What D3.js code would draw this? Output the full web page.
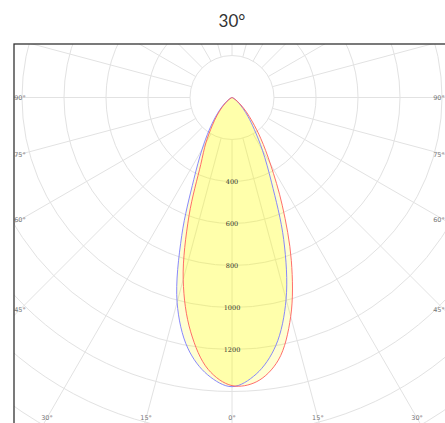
<!DOCTYPE html>
<html><head><meta charset="utf-8">
<script src="https://cdn.jsdelivr.net/npm/d3@7"></script>
<style>html,body{margin:0;padding:0;background:#fff;overflow:hidden}</style>
</head><body>
<div id="chart"></div>
<script>
const title = "30°";
const angles = [0,5,10,15,20,25,30,35,40,45,50,55,60,65,70,75,80,85,90];
// C0-C180 plane (blue)
const c0   = [1377,1322,1200,995,720,445,290,185,120,75,45,25,12,6,3,1,0,0,0];
const c180 = [1377,1326,1212,1010,700,430,285,190,125,80,48,26,13,6,3,1,0,0,0];
// C90-C270 plane (red)
const c90  = [1372,1358,1270,1080,826,566,366,240,152,95,55,30,15,7,3,1,0,0,0];
const c270 = [1372,1300,1133,898,598,352,248,165,110,70,40,22,11,5,2,1,0,0,0];
const ringValues = [200,400,600,800,1000,1200,1400,1600,1800,2000,2200,2400];
const ringLabels = [400,600,800,1000,1200];
const spokeAngles = d3.range(0,360,15);
const leftLabels = [90,75,60,45];
const bottomLabels = [-30,-15,0,15,30];

const W = 445, H = 423;
const cx = 232, cy = 97.5;
const frame = {x:14, y:44, w:436, h:436};
const r = d3.scaleLinear().domain([0,200]).range([0,42]);

const svg = d3.select("#chart").append("svg").attr("width",W).attr("height",H);
svg.append("text").attr("x",232).attr("y",27).attr("text-anchor","middle")
  .attr("font-family","Lato, 'Open Sans', sans-serif").attr("font-size",17)
  .attr("fill","#333").text(title);

svg.append("defs").append("clipPath").attr("id","clip").append("rect")
  .attr("x",frame.x).attr("y",frame.y).attr("width",frame.w).attr("height",frame.h);

const g = svg.append("g").attr("clip-path","url(#clip)");
const c = g.append("g").attr("transform",`translate(${cx},${cy})`);
const rad = d => d*Math.PI/180;

// rings
c.selectAll("circle.ring").data(ringValues).join("circle").attr("class","ring")
  .attr("r",d=>r(d)).attr("fill","none").attr("stroke","#e2e2e2").attr("stroke-width",1);
// spokes (theta measured from downward vertical)
c.selectAll("line.spoke").data(spokeAngles).join("line").attr("class","spoke")
  .attr("x1",d=>r(200)*Math.sin(rad(d))).attr("y1",d=>r(200)*Math.cos(rad(d)))
  .attr("x2",d=>r(2600)*Math.sin(rad(d))).attr("y2",d=>r(2600)*Math.cos(rad(d)))
  .attr("stroke","#e2e2e2").attr("stroke-width",1);

// curves
function pts(left,right){
  const p=[];
  for(let i=angles.length-1;i>=0;i--) p.push([Math.PI+rad(angles[i]), r(left[i])]);
  for(let i=1;i<angles.length;i++) p.push([Math.PI-rad(angles[i]), r(right[i])]);
  return p;
}
const line = d3.lineRadial().angle(d=>d[0]).radius(d=>d[1]).curve(d3.curveCatmullRomClosed.alpha(0.5));
const curves = [
  {p:pts(c180,c0), color:"#7b7bff"},
  {p:pts(c270,c90), color:"#ff5e5e"}
];
c.selectAll("path.fill").data(curves).join("path").attr("class","fill")
  .attr("d",d=>line(d.p)).attr("fill","#ffff00").attr("fill-opacity",0.18).attr("stroke","none");
c.selectAll("path.outline").data(curves).join("path").attr("class","outline")
  .attr("d",d=>line(d.p)).attr("fill","none").attr("stroke",d=>d.color).attr("stroke-width",0.9);

// ring labels
c.selectAll("text.rl").data(ringLabels).join("text").attr("class","rl")
  .attr("x",0).attr("y",d=>r(d)).attr("dy","0.35em").attr("text-anchor","middle")
  .attr("font-family","'DejaVu Serif', serif").attr("font-size",6.5).attr("fill","#333").text(d=>d);

// angle labels
const lab = svg.append("g").attr("font-family","'DejaVu Sans', sans-serif").attr("font-size",6.5).attr("fill","#777").attr("text-anchor","middle");
leftLabels.forEach(a=>{
  const dx = 20 - cx;
  const y = cy + Math.abs(dx)/Math.tan(rad(a));
  lab.append("text").attr("x",20).attr("y",y).attr("dy","0.35em").text(a+"°");
  lab.append("text").attr("x",439).attr("y",y).attr("dy","0.35em").text(a+"°");
});
bottomLabels.forEach(a=>{
  const x = cx + (418-cy)*Math.tan(rad(a));
  lab.append("text").attr("x",x).attr("y",418).attr("dy","0.35em").text(Math.abs(a)+"°");
});

// frame
svg.append("rect").attr("x",frame.x).attr("y",frame.y).attr("width",frame.w).attr("height",frame.h)
  .attr("fill","none").attr("stroke","#333").attr("stroke-width",1.3);
</script>
</body></html>
